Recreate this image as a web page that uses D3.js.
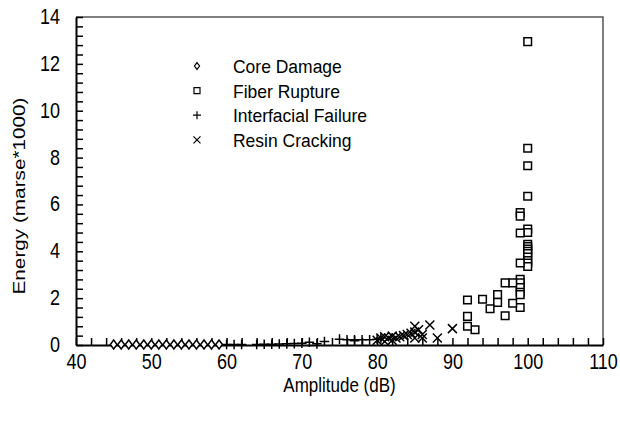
<!DOCTYPE html>
<html><head><meta charset="utf-8">
<script src="https://cdn.jsdelivr.net/npm/d3@7"></script>
<style>body{margin:0;background:#fff}svg{display:block}</style>
</head><body>
<svg id="c" width="620" height="424"></svg>
<script>
const seriesNames = ["Core Damage", "Fiber Rupture", "Interfacial Failure", "Resin Cracking"];
const coreX = [45,46,47,48,49,50,51,52,53,54,55,56,57,58,59];
const coreY = [0.02,0.02,0.02,0.02,0.02,0.02,0.02,0.02,0.02,0.02,0.02,0.02,0.02,0.02,0.02];
const fiberX = [100,100,100,100,100,100,100,100,100,100,100,100,100,100,100,
  99,99,99,99,99,99,99,99,99,99, 98,98, 97,97, 96,96, 95, 94, 93, 92,92,92];
const fiberY = [12.95,8.4,7.65,6.35,4.95,4.8,4.3,4.2,4.1,4.0,3.9,3.75,3.6,3.5,3.35,
  5.65,5.5,4.78,3.5,2.8,2.65,2.45,2.25,2.15,1.6, 2.65,1.78, 2.65,1.25, 2.15,1.82, 1.55, 1.95, 0.65, 1.92,1.22,0.8];
const interX = [60,61,62,64,65,66,67,68,69,70,71,72,73,75,76,77,77,78,79,80,80.5];
const interY = [0.02,0.02,0.02,0.02,0.03,0.03,0.04,0.05,0.06,0.08,0.12,0.05,0.15,0.25,0.22,0.18,0.22,0.22,0.22,0.25,0.3];
const resinX = [80,80.5,81,81,81.5,82,82,82.5,83,83.5,84,84.5,85,85,85,85.5,86,86,87,88,90];
const resinY = [0.2,0.3,0.35,0.15,0.3,0.38,0.2,0.3,0.35,0.4,0.45,0.5,0.55,0.8,0.3,0.65,0.45,0.3,0.85,0.3,0.7];
const xTickLabels = [40,50,60,70,80,90,100,110];
const yTickLabels = [0,2,4,6,8,10,12,14];

const svg = d3.select("#c");
const m = {l:76, r:17, t:17, b:79};
const W = 620, H = 424;
const x = d3.scaleLinear().domain([40,110]).range([m.l, W-m.r]);
const y = d3.scaleLinear().domain([0,14]).range([H-m.b, m.t]);
const font = "'Liberation Sans', Arial, sans-serif";
const SY = 1.2;

// frame top/right
svg.append("path").attr("d", `M${x(40)},${y(14)}H${x(110)}V${y(0)}`)
  .attr("fill","none").attr("stroke","#555").attr("stroke-width",1.5);

// minor tick axes (inward)
const xMinor = d3.range(40,110.01,2);
const yMinor = d3.range(0,14.01,0.4);
const gx = svg.append("g").attr("transform",`translate(0,${y(0)})`)
  .call(d3.axisBottom(x).tickValues(xMinor).tickSizeInner(-7).tickSizeOuter(0).tickFormat(()=>""));
const gy = svg.append("g").attr("transform",`translate(${x(40)},0)`)
  .call(d3.axisLeft(y).tickValues(yMinor).tickSizeInner(-7).tickSizeOuter(0).tickFormat(()=>""));
[gx,gy].forEach(g=>{
  g.select(".domain").attr("stroke","#000").attr("stroke-width",2);
  g.selectAll(".tick line").attr("stroke","#000").attr("stroke-width",1.5);
});

// labels
const gxl = svg.append("g").attr("transform",`translate(0,${y(0)})`)
  .call(d3.axisBottom(x).tickValues(xTickLabels).tickSize(0).tickPadding(7).tickFormat(d3.format("d")));
const gyl = svg.append("g").attr("transform",`translate(${x(40)},0)`)
  .call(d3.axisLeft(y).tickValues(yTickLabels).tickSize(0).tickPadding(16).tickFormat(d3.format("d")));
[gxl,gyl].forEach(g=>{g.select(".domain").remove();
  g.selectAll("text").attr("font-family",font).attr("font-size",18).attr("fill","#000")
   .attr("transform",`scale(1,${SY})`);});
gyl.selectAll("text").attr("dy","0.3em");

// axis titles
svg.append("text").attr("transform",`translate(${(x(40)+x(110))/2},392) scale(1,${SY})`).attr("text-anchor","middle")
  .attr("font-family",font).attr("font-size",17).text("Amplitude (dB)");
svg.append("text").attr("transform",`translate(25,196) scale(1,1.22) rotate(-90)`).attr("text-anchor","middle")
  .attr("font-family",font).attr("font-size",17).text("Energy (marse*1000)");

// marker shapes
const shapes = {
  "Core Damage": s=>`M0,${-s}L${s*0.75},0L0,${s}L${-s*0.75},0Z`,
  "Fiber Rupture": s=>`M${-s},${-s}H${s}V${s}H${-s}Z`,
  "Interfacial Failure": s=>`M${-s},0H${s}M0,${-s}V${s}`,
  "Resin Cracking": s=>`M${-s},${-s}L${s},${s}M${s},${-s}L${-s},${s}`
};
const sizes = {"Core Damage":4.5,"Fiber Rupture":3.8,"Interfacial Failure":4.8,"Resin Cracking":4.5};
const data = [
  [seriesNames[0], coreX, coreY],
  [seriesNames[1], fiberX, fiberY],
  [seriesNames[2], interX, interY],
  [seriesNames[3], resinX, resinY]
];
data.forEach(([name, xs, ys])=>{
  svg.append("g").selectAll("path").data(xs.map((v,i)=>[v,ys[i]])).join("path")
    .attr("transform",d=>`translate(${x(d[0])},${y(d[1])})`)
    .attr("d",shapes[name](sizes[name]))
    .attr("fill","#fff").attr("fill-opacity",name==="Fiber Rupture"||name==="Core Damage"?1:0)
    .attr("stroke","#000").attr("stroke-width",1.5);
});

// legend
const lg = svg.append("g");
seriesNames.forEach((name,i)=>{
  const yy = 66 + i*24.6;
  const ls = {"Core Damage":3.4,"Fiber Rupture":3,"Interfacial Failure":4,"Resin Cracking":3.5}[name];
  lg.append("path").attr("transform",`translate(197,${yy})`).attr("d",shapes[name](ls))
    .attr("fill","none").attr("stroke","#000").attr("stroke-width",1.2);
  lg.append("text").attr("transform",`translate(233,${yy}) scale(1,1.1)`).attr("dy","0.36em")
    .attr("font-family",font).attr("font-size",17.5).text(name);
});
</script>
</body></html>
